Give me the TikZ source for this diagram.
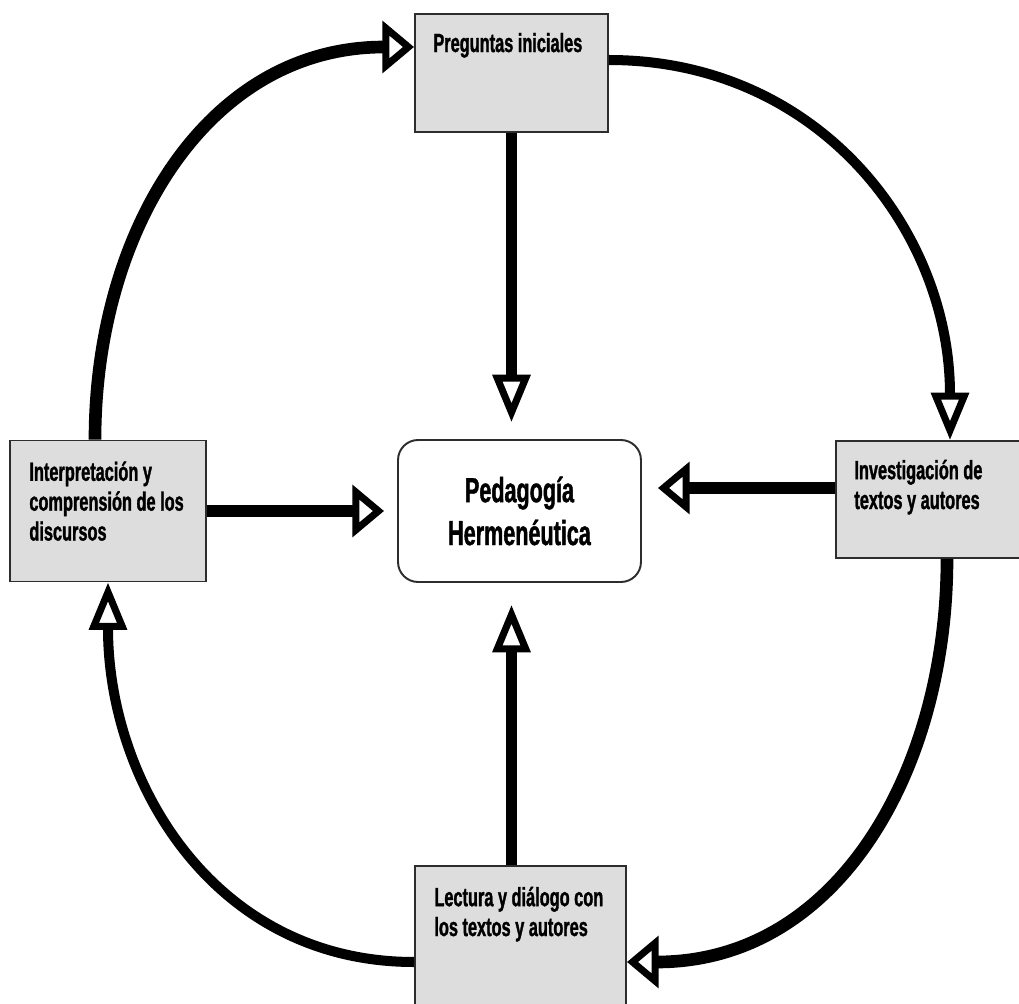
\documentclass[tikz,border=0pt]{standalone}
\usepackage{fontspec}
\newfontfamily\estrecha{Liberation Sans}[FakeStretch=0.62, BoldFeatures={FakeBold=1.2}]
\usetikzlibrary{arrows.meta,calc}
\definecolor{Gc}{RGB}{221,221,221}
\definecolor{Bd}{RGB}{45,45,45}

\tikzset{
  caja/.style={draw=Bd, line width=1.1pt, fill=Gc, inner sep=0pt},
  texto/.style={font={\estrecha\bfseries\fontsize{15}{17}\selectfont}, align=left, inner sep=0pt, anchor=base west},
  flechav/.style={line width=5.7pt, -{Triangle[open, length=27pt, width=21pt, line width=4pt]}},
  flechah/.style={line width=7.2pt, -{Triangle[open, length=18pt, width=29pt, line width=4pt]}},
  arco/.style={line width=6.8pt},
}

\begin{document}
\begin{tikzpicture}[x=0.02cm, y=0.02cm]
    \path[use as bounding box, clip] (0,0) rectangle (1019,-1004);

    %Cajas grises
    \node[caja, minimum width=3.86cm, minimum height=2.36cm] (preg) at (511.5,-73) {};
    \node[caja, minimum width=3.92cm, minimum height=2.82cm] (interp) at (108,-511) {};
    \node[caja, minimum width=3.88cm, minimum height=2.34cm] (invest) at (933,-499.5) {};
    \node[caja, minimum width=4.22cm, minimum height=2.88cm] (lect) at (520.5,-938) {};

    %Textos de las cajas (la base es la de la ultima linea)
    \node[texto] (tpreg) at ($(preg.north west)+(19,-39)$) {Preguntas iniciales};
    \node[texto] (tinterp) at ($(interp.north west)+(20,-101)$) {Interpretación y\\comprensión de los\\discursos};
    \node[texto] (tinvest) at ($(invest.north west)+(19,-69)$) {Investigación de\\textos y autores};
    \node[texto] (tlect) at ($(lect.north west)+(20,-71)$) {Lectura y diálogo con\\los textos y autores};

    %Caja central
    \node[draw=Bd, line width=1.1pt, fill=white, rounded corners=0.4cm,
          minimum width=4.86cm, minimum height=2.84cm, align=center,
          font={\estrecha\bfseries\fontsize{19.8}{24.4}\selectfont}] (centro) at (519.5,-511) {Pedagogía\\Hermenéutica};

    %Flechas hacia el centro
    \coordinate (ainv) at ($(invest.west)+(0,11.5)$);
    \draw[flechav, shorten >=0.34cm] (preg.south) -- (preg.south |- centro.north);
    \draw[flechav, shorten >=0.44cm] (lect.north -| preg.south) -- (preg.south |- centro.south);
    \draw[flechah, shorten >=0.26cm] (interp.east) -- (interp.east -| centro.west);
    \draw[flechah, shorten >=0.32cm] (ainv) -- (ainv -| centro.east);

    %Circulo exterior
    \draw[arco, flechav] ($(preg.east)+(0,13)$) to[out=0, in=90, looseness=1.05] ($(invest.north)+(17,0)$);
    \draw[arco, flechah] ($(invest.south)+(14,0)$) to[out=-90, in=0, looseness=1.05] ($(lect.east)+(0,-24)$);
    \draw[arco, flechav] ($(lect.west)+(0,-24)$) to[out=180, in=-90, looseness=1.05] (interp.south);
    \draw[arco, flechah] ($(interp.north)+(-13,0)$) to[out=90, in=180, looseness=1.05] ($(preg.west)+(0,26)$);
\end{tikzpicture}
\end{document}
